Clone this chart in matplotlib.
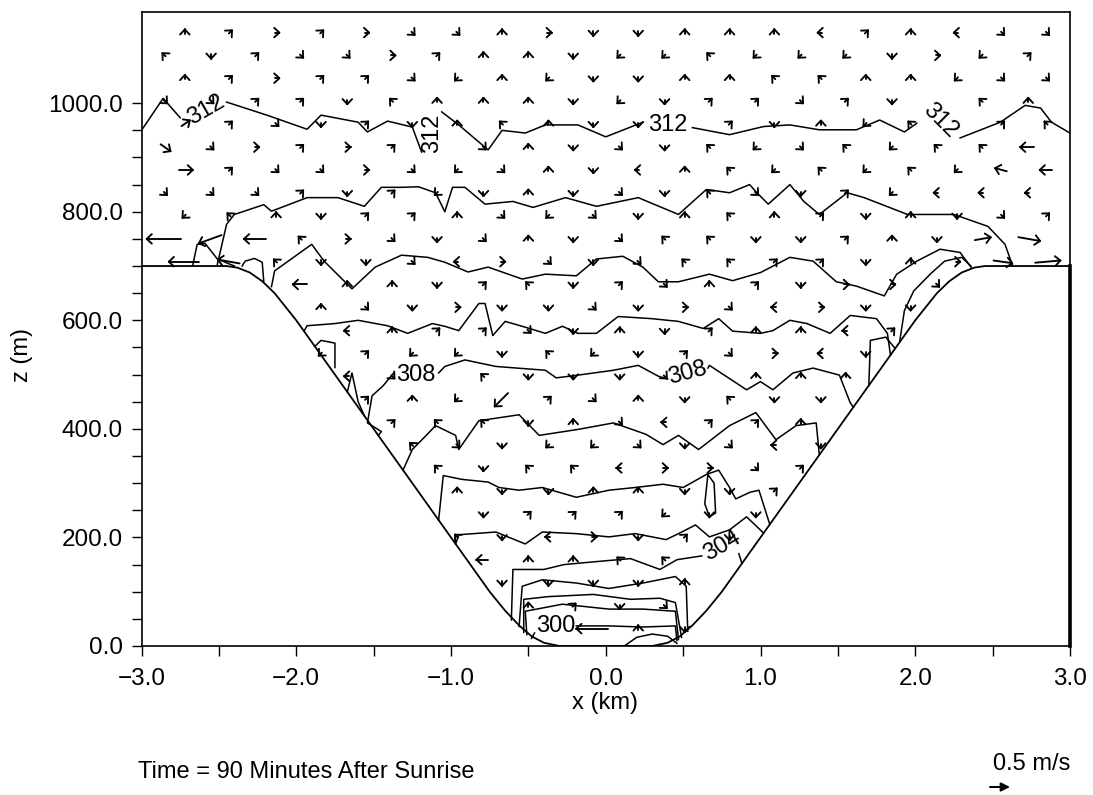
import numpy as np
import matplotlib
matplotlib.use("Agg")
import matplotlib.pyplot as plt
from matplotlib.ticker import FixedLocator, FuncFormatter

plt.rcParams['font.family'] = ['Liberation Sans', 'DejaVu Sans']

nan = np.nan

# ---------------- terrain (valley cross-section) ----------------
terrain_x = [-3.0, -2.45, -2.38, -2.30, -2.22, -2.14, -2.0, -1.5, -1.0, -0.75, -0.65, -0.56,
             -0.48, -0.40, -0.30, 0.30, 0.40, 0.48, 0.56, 0.65, 0.75, 1.0, 1.5, 2.0, 2.14,
             2.22, 2.30, 2.38, 2.45, 3.0]
terrain_z = [700, 700, 697, 688, 672, 650, 600, 400, 200, 100, 65, 38, 18, 6, 0, 0, 6, 18, 38,
             65, 100, 200, 400, 600, 650, 672, 688, 697, 700, 700]

# ---------------- potential temperature isolines (K) ----------------
th312_x = [-3.0, -2.86, -2.75, nan, -2.45, -2.19, -1.93, -1.84, -1.60, -1.54, -1.41, -1.25, -1.19,
           nan, -1.06, -0.95, -0.76, -0.67, -0.52, -0.39, -0.18, 0.0, 0.24, nan, 0.56, 0.80,
           1.02, 1.19, 1.38, 1.62, 1.77, 1.93, 2.01, nan, 2.29, 2.55, 2.71, 2.81, 2.88, 3.0]
th312_z = [950, 1009, 973, nan, 1002, 978, 952, 978, 965, 947, 967, 956, 910,
           nan, 984, 960, 914, 950, 945, 960, 960, 938, 965, nan, 955, 942,
           957, 960, 951, 951, 969, 947, 963, nan, 936, 965, 996, 991, 965, 945]

th311_x = [-2.51, -2.45, -2.40, -2.21, -2.16, -1.93, -1.73, -1.56, -1.45, -1.32, -1.21, -1.10,
           -1.04, -0.99, -0.91, -0.78, -0.60, -0.47, -0.26, -0.06, 0.21, 0.47, 0.65, 0.80,
           0.93, 0.97, 1.05, 1.19, 1.28, 1.38, 1.56, 1.67, 1.95, 2.25, 2.47, 2.58, 2.63]
th311_z = [703, 777, 795, 813, 801, 826, 826, 810, 845, 845, 846, 835,
           800, 845, 845, 814, 819, 808, 826, 810, 826, 795, 841, 835,
           850, 837, 814, 850, 819, 795, 835, 826, 795, 795, 773, 740, 700]

th310_x = [-2.16, -2.14, -1.90, -1.82, -1.64, -1.49, -1.32, -1.15, -1.04, -0.89, -0.76, -0.54,
           -0.39, -0.19, -0.06, 0.11, 0.24, 0.34, 0.47, 0.67, 0.82, 1.0, 1.19, 1.34, 1.49,
           1.62, 1.80, 1.88, 2.01, 2.16, 2.29, 2.36]
th310_z = [662, 691, 740, 709, 658, 698, 720, 716, 707, 689, 698, 676,
           685, 682, 713, 718, 698, 671, 671, 685, 673, 688, 716, 709, 671,
           663, 645, 685, 709, 731, 725, 698]
th310b_x = [1.90, 1.93, 1.99, 2.10, 2.19, 2.30, 2.36]
th310b_z = [562, 618, 654, 686, 709, 716, 700]
th310c_x = [-2.67, -2.64, -2.59, -2.51, -2.40]
th310c_z = [700, 740, 742, 713, 700]
th310d_x = [-2.35, -2.33, -2.27, -2.22, -2.21]
th310d_z = [700, 709, 714, 707, 672]

th309_x = [-1.95, -1.93, -1.75, -1.60, -1.41, -1.28, -1.12, -1.04, -0.95, -0.82, -0.78, -0.73,
           -0.65, -0.54, -0.39, -0.28, -0.18, -0.06, 0.08, 0.30, 0.47, 0.63, 0.73, 0.82, 1.0,
           1.08, 1.19, 1.30, 1.45, 1.58, 1.75, 1.82, 1.84]
th309_z = [580, 590, 594, 600, 590, 576, 594, 589, 581, 631, 631, 572,
           598, 589, 576, 589, 576, 576, 607, 603, 598, 585, 603, 580, 576,
           581, 600, 594, 576, 609, 603, 576, 536]
th309b_x = [1.70, 1.71, 1.81, 1.87]
th309b_z = [480, 563, 569, 548]

th308_x = [-1.47, -1.45, -1.54, -1.51, -1.44, -1.37, nan, -1.08, -1.04, -0.91, -0.71, -0.39,
           -0.32, -0.18, 0.05, 0.21, 0.34, 0.40, nan, 0.66, 0.67, 0.91, 1.0, 1.08, 1.21, 1.34,
           1.51, 1.58, 1.60]
th308_z = [388, 395, 411, 461, 479, 503, nan, 503, 515, 527, 515, 508,
           494, 499, 508, 517, 497, 492, nan, 512, 517, 472, 487, 472, 503, 512,
           499, 448, 440]
th308b_x = [-1.88, -1.84, -1.75, -1.75]
th308b_z = [552, 563, 558, 513]
th308c_x = [-1.67, -1.64, -1.60, -1.56]
th308c_z = [468, 503, 450, 424]

th307_x = [-1.31, -1.25, -1.16, -1.10, -0.97, -0.95, -0.82, -0.56, -0.43, -0.18, 0.05, 0.26,
           0.37, 0.47, 0.60, 0.80, 0.97, 1.10, 1.23, 1.36, 1.38]
th307_z = [324, 362, 388, 406, 388, 362, 415, 426, 388, 399, 411, 390,
           371, 388, 362, 406, 430, 380, 406, 411, 352]

th306_x = [-1.08, -1.05, -0.93, -0.76, -0.69, -0.56, -0.41, -0.19, 0.02, 0.19, 0.37, 0.50,
           0.65, 0.73, 0.80, 0.84, 0.93, 0.99, 1.06]
th306_z = [232, 314, 307, 302, 292, 287, 292, 274, 287, 292, 298, 292,
           316, 324, 292, 271, 283, 287, 224]
th306b_x = [0.66, 0.70, 0.71, 0.67, 0.64, 0.66]
th306b_z = [316, 300, 245, 238, 262, 316]

th305_x = [-0.97, -0.95, -0.71, -0.52, -0.41, -0.19, 0.02, 0.19, 0.39, 0.47, 0.58, 0.67, 0.80,
           0.91, 1.02]
th305_z = [188, 205, 210, 188, 210, 207, 201, 207, 196, 207, 223, 201, 214, 238, 208]

th304_x = [-0.61, -0.60, -0.40, -0.27, -0.08, 0.16, 0.35, 0.46, 0.62, nan, 0.86, 0.88]
th304_z = [48, 141, 141, 150, 155, 161, 141, 159, 166, nan, 170, 152]

th303_x = [-0.56, -0.54, -0.41, -0.19, 0.02, 0.24, 0.45, 0.52, 0.53]
th303_z = [36, 110, 122, 116, 106, 116, 128, 110, 27]
th302_x = [-0.53, -0.53, -0.37, -0.08, 0.16, 0.35, 0.45, 0.49]
th302_z = [25, 86, 91, 95, 86, 88, 80, 16]
th301_x = [-0.51, -0.52, -0.28, 0.02, 0.24, 0.45, 0.47]
th301_z = [21, 64, 77, 68, 68, 64, 12]
th300_x = [-0.48, -0.46, nan, -0.19, 0.02, 0.24, 0.45, 0.46]
th300_z = [14, 24, nan, 37, 37, 35, 37, 10]
th299_x = [0.12, 0.20, 0.30, 0.40, 0.46]
th299_z = [0, 16, 22, 18, 5]

# contour labels: text, x, z, rotation
label_text = ['312', '312', '312', '312', '308', '308', '304', '300']
label_x = [-2.58, -1.12, 0.40, 2.16, -1.23, 0.53, 0.75, -0.32]
label_z = [987, 945, 960, 968, 499, 503, 185, 37]
label_rot = [30, 90, 0, -45, 0, 15, 30, 0]

# ---------------- wind vectors ----------------
# staggered model grid: even rows use col_xA, odd rows col_xB
row_z = [1130, 1088, 1046, 1004, 962, 919, 877, 835, 793, 750, 708, 666, 624, 581,
         539, 497, 455, 412, 370, 328, 286, 243, 201, 159, 117, 74, 32]
col_xA = [-2.72, -2.43, -2.13, -1.84, -1.55, -1.25, -0.96, -0.67, -0.37, -0.08,
          0.21, 0.51, 0.80, 1.09, 1.39, 1.68, 1.97, 2.27, 2.56, 2.85]
col_xB = [-2.85, -2.55, -2.26, -1.97, -1.67, -1.38, -1.09, -0.79, -0.50, -0.21,
          0.09, 0.38, 0.67, 0.97, 1.26, 1.55, 1.85, 2.14, 2.43, 2.73]
# direction codes (numeric keypad: 8 up, 2 down, 6 right, 4 left, 9 NE, 7 NW, 3 SE, 1 SW)
wind_dir = [
    "89696338622888498433",
    "72933698821171112619",
    "89699318122887788133",
    "33992788821299392.78",
    "99329287822.92817.97",
    "336969.3823271371774",
    "69336313824871717144",
    "33392912823273291444",
    "17829983132878928239",
    "41476323823772298266",
    "44722346323779928666",
    "...488297293892663..",
    "...83262232634622...",
    "....4899328298849...",
    "...1911271293642....",
    "....43.72223.888....",
    "....98119382722.....",
    ".....9772834998.....",
    ".....7321132342.....",
    "......727746639.....",
    "......82288229......",
    ".......2999122......",
    "......7246292.......",
    ".......48877........",
    ".......22228........",
    "........8923........",
    ".........482........",
]
weak_speed = 0.06  # m/s, arrows drawn as heads only
# stronger vectors: (row, col, speed m/s, direction deg)
strong_row = [9, 9, 9, 10, 10, 11, 9, 9, 10, 10, 26, 16, 6, 5, 5, 6, 6, 4, 23]
strong_col = [0, 1, 2, 0, 1, 3, 18, 19, 18, 19, 9, 7, 0, 0, 19, 18, 19, 0, 7]
strong_spd = [0.80, 0.55, 0.50, 0.70, 0.50, 0.30, 0.35, 0.50, 0.42, 0.58, 0.75, 0.42,
              0.30, 0.25, 0.30, 0.25, 0.25, 0.20, 0.25]
strong_ang = [180, 200, 180, 180, 170, 180, 10, -10, -8, 5, 180, 225,
              0, -35, 180, 165, 180, 35, 180]
ref_speed = 0.5

# ---------------- figure ----------------
W, H = 1093, 795
fig = plt.figure(figsize=(W / 100, H / 100), dpi=100)
L, R, B, T = 141.5, 1070.0, 646.0, 12.0
ax = fig.add_axes([L / W, 1 - B / H, (R - L) / W, (B - T) / H])
XMIN, XMAX, ZMIN, ZMAX = -3.0, 3.0, 0.0, 1168.0
ax.set_xlim(XMIN, XMAX)
ax.set_ylim(ZMIN, ZMAX)
px_x = (R - L) / (XMAX - XMIN)   # pixels per km
px_z = (B - T) / (ZMAX - ZMIN)   # pixels per m
PX_PER_MS = 40.0                 # arrow pixels per m/s

lw_c = 1.1
ax.plot(terrain_x, terrain_z, color='k', lw=1.3, solid_capstyle='round')
ax.plot([3.0, 3.0], [0, 700], color='k', lw=2.6, clip_on=False)

contours = [(th312_x, th312_z), (th311_x, th311_z), (th310_x, th310_z), (th310b_x, th310b_z),
            (th310c_x, th310c_z), (th310d_x, th310d_z), (th309_x, th309_z),
            (th309b_x, th309b_z), (th308_x, th308_z), (th308b_x, th308b_z),
            (th308c_x, th308c_z), (th307_x, th307_z), (th306_x, th306_z),
            (th306b_x, th306b_z), (th305_x, th305_z), (th304_x, th304_z),
            (th303_x, th303_z), (th302_x, th302_z), (th301_x, th301_z),
            (th300_x, th300_z), (th299_x, th299_z)]
for cx, cz in contours:
    ax.plot(cx, cz, color='k', lw=lw_c)

for t, x, z, r in zip(label_text, label_x, label_z, label_rot):
    ax.text(x, z, t, rotation=r, ha='center', va='center', fontsize=17,
            rotation_mode='anchor')

# wind arrows
strong = {(r, c): (s, a) for r, c, s, a in zip(strong_row, strong_col, strong_spd, strong_ang)}
angles = {'6': 0, '9': 45, '8': 90, '7': 135, '4': 180, '1': 225, '2': 270, '3': 315}
HEAD = 7.0       # px
HALF = np.deg2rad(43)


def arrow(x, z, spd, ang_deg, lw=1.35):
    a = np.deg2rad(ang_deg)
    ln = spd * PX_PER_MS
    ux, uy = np.cos(a), np.sin(a)
    tx, ty = -0.5 * ln * ux, -0.5 * ln * uy
    hx, hy = 0.5 * ln * ux + 2.0 * ux, 0.5 * ln * uy + 2.0 * uy
    segs = [[(tx, ty), (hx, hy)]]
    for s in (+1, -1):
        b = a + np.pi + s * HALF
        segs.append([(hx, hy), (hx + HEAD * np.cos(b), hy + HEAD * np.sin(b))])
    for sg in segs:
        xs = [x + p[0] / px_x for p in sg]
        zs = [z + p[1] / px_z for p in sg]
        ax.plot(xs, zs, color='k', lw=lw, solid_capstyle='round')


for k, row in enumerate(wind_dir):
    xs = col_xA if k % 2 == 0 else col_xB
    for i, ch in enumerate(row):
        if ch == '.':
            continue
        if (k, i) in strong:
            s, a = strong[(k, i)]
        else:
            s, a = weak_speed, angles[ch]
        arrow(xs[i], row_z[k], s, a)

# axes styling
for sp in ax.spines.values():
    sp.set_linewidth(1.2)
ax.xaxis.set_major_locator(FixedLocator([-3, -2, -1, 0, 1, 2, 3]))
ax.xaxis.set_minor_locator(FixedLocator([-2.5, -1.5, -0.5, 0.5, 1.5, 2.5]))
ax.yaxis.set_major_locator(FixedLocator([0, 200, 400, 600, 800, 1000]))
ax.yaxis.set_minor_locator(FixedLocator([50, 100, 150, 250, 300, 350, 450, 500, 550, 650, 700,
                                         750, 850, 900, 950]))


def fmt(v, pos):
    s = '%.1f' % abs(v)
    return ('\u2212' + s) if v < -1e-9 else s


ax.xaxis.set_major_formatter(FuncFormatter(fmt))
ax.yaxis.set_major_formatter(FuncFormatter(fmt))
ax.tick_params(which='both', direction='out', length=7.5, width=1.0, labelsize=17.5)
ax.tick_params(axis='x', which='both', pad=8)
ax.tick_params(axis='y', which='both', pad=6)


def ftext(xp, yp, s, **kw):
    fig.text(xp / W, 1 - yp / H, s, **kw)


ftext(22, 355, 'z (m)', rotation=90, ha='center', va='center', fontsize=17)
ftext(605, 703, 'x (km)', ha='center', va='center', fontsize=17)
ftext(138, 772, 'Time = 90 Minutes After Sunrise', ha='left', va='center', fontsize=17)
ftext(1070, 764, '0.5 m/s', ha='right', va='center', fontsize=17)

klen = ref_speed * PX_PER_MS
ax.annotate('', xy=(990 + klen, H - 787), xytext=(990, H - 787),
            xycoords='figure pixels', textcoords='figure pixels',
            arrowprops=dict(arrowstyle='-|>', lw=1.4, color='k', mutation_scale=13,
                            shrinkA=0, shrinkB=0), annotation_clip=False)

fig.savefig('out.png', dpi=100)
